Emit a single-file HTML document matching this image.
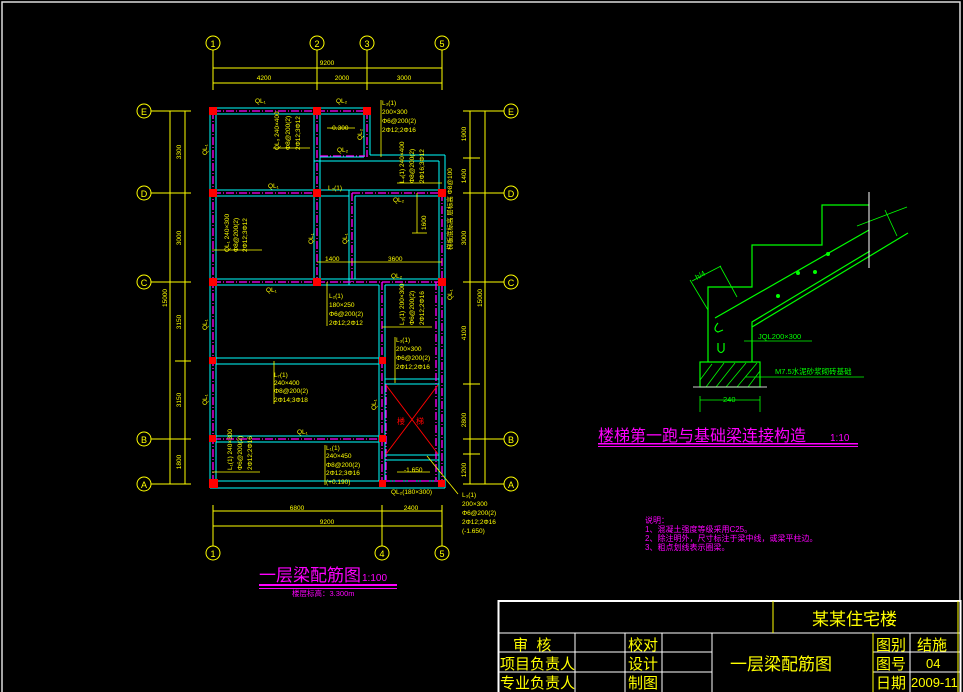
<!DOCTYPE html>
<html><head><meta charset="utf-8"><style>
html,body{margin:0;padding:0;background:#000;}
svg{display:block;}
text{font-family:"Liberation Sans","Noto Sans CJK SC",sans-serif;}
</style></head><body>
<svg width="963" height="692" viewBox="0 0 963 692" xmlns="http://www.w3.org/2000/svg">
<rect x="0" y="0" width="963" height="692" fill="#000"/>
<!-- page border -->
<polyline points="2,692 2,2 960,2 960,692" fill="none" stroke="#ddd" stroke-width="1.5"/>

<!-- ===== GRID AXES ===== -->
<g stroke="#ff0" stroke-width="1" fill="none">
  <!-- top verticals -->
  <line x1="213" y1="50" x2="213" y2="90"/><line x1="317" y1="50" x2="317" y2="90"/>
  <line x1="367" y1="50" x2="367" y2="90"/><line x1="442" y1="50" x2="442" y2="90"/>
  <circle cx="213" cy="43" r="7"/><circle cx="317" cy="43" r="7"/><circle cx="367" cy="43" r="7"/><circle cx="442" cy="43" r="7"/>
  <line x1="213" y1="68" x2="442" y2="68"/><line x1="213" y1="83" x2="442" y2="83"/>
  <!-- bottom -->
  <line x1="213" y1="505" x2="213" y2="546"/><line x1="382" y1="505" x2="382" y2="546"/><line x1="442" y1="505" x2="442" y2="546"/>
  <circle cx="213" cy="553" r="7"/><circle cx="382" cy="553" r="7"/><circle cx="442" cy="553" r="7"/>
  <line x1="213" y1="511" x2="442" y2="511"/><line x1="213" y1="526" x2="442" y2="526"/>
  <!-- left -->
  <circle cx="144" cy="111" r="7"/><circle cx="144" cy="193" r="7"/><circle cx="144" cy="282" r="7"/><circle cx="144" cy="439" r="7"/><circle cx="144" cy="484" r="7"/>
  <line x1="151" y1="111" x2="191" y2="111"/><line x1="151" y1="193" x2="191" y2="193"/><line x1="151" y1="282" x2="191" y2="282"/><line x1="151" y1="439" x2="191" y2="439"/><line x1="151" y1="484" x2="191" y2="484"/>
  <line x1="170" y1="111" x2="170" y2="484"/><line x1="185" y1="111" x2="185" y2="484"/>
  <line x1="175" y1="361" x2="191" y2="361"/>
  <!-- right -->
  <circle cx="511" cy="111" r="7"/><circle cx="511" cy="193" r="7"/><circle cx="511" cy="282" r="7"/><circle cx="511" cy="439" r="7"/><circle cx="511" cy="484" r="7"/>
  <line x1="463" y1="111" x2="504" y2="111"/><line x1="463" y1="193" x2="504" y2="193"/><line x1="463" y1="282" x2="504" y2="282"/><line x1="463" y1="439" x2="504" y2="439"/><line x1="463" y1="484" x2="504" y2="484"/>
  <line x1="470" y1="111" x2="470" y2="484"/><line x1="485" y1="111" x2="485" y2="484"/>
  <line x1="463" y1="158" x2="480" y2="158"/><line x1="463" y1="384" x2="480" y2="384"/><line x1="463" y1="454" x2="480" y2="454"/>
</g>
<g fill="#ff0" font-size="9" text-anchor="middle">
  <text x="213" y="47">1</text><text x="317" y="47">2</text><text x="367" y="47">3</text><text x="442" y="47">5</text>
  <text x="213" y="557">1</text><text x="382" y="557">4</text><text x="442" y="557">5</text>
  <text x="144" y="115">E</text><text x="144" y="197">D</text><text x="144" y="286">C</text><text x="144" y="443">B</text><text x="144" y="488">A</text>
  <text x="511" y="115">E</text><text x="511" y="197">D</text><text x="511" y="286">C</text><text x="511" y="443">B</text><text x="511" y="488">A</text>
</g>
<g fill="#ff0" font-size="6.5" text-anchor="middle" font-family="Liberation Mono">
  <text x="327" y="65">9200</text><text x="264" y="80">4200</text><text x="342" y="80">2000</text><text x="404" y="80">3000</text>
  <text x="297" y="510">6800</text><text x="411" y="510">2400</text><text x="327" y="524">9200</text>
  <text transform="translate(181,152) rotate(-90)">3300</text><text transform="translate(181,238) rotate(-90)">3000</text>
  <text transform="translate(181,322) rotate(-90)">3150</text><text transform="translate(181,400) rotate(-90)">3150</text>
  <text transform="translate(181,462) rotate(-90)">1800</text><text transform="translate(167,298) rotate(-90)">15000</text>
  <text transform="translate(466,134) rotate(-90)">1900</text><text transform="translate(466,176) rotate(-90)">1400</text>
  <text transform="translate(466,238) rotate(-90)">3000</text><text transform="translate(466,333) rotate(-90)">4100</text>
  <text transform="translate(466,420) rotate(-90)">2800</text><text transform="translate(466,470) rotate(-90)">1200</text>
  <text transform="translate(482,298) rotate(-90)">15000</text>
</g>

<!-- ===== WALLS (cyan) ===== -->
<g stroke="#0ff" stroke-width="1" fill="none">
  <!-- outer -->
  <line x1="210" y1="108" x2="210" y2="488"/><line x1="216" y1="114" x2="216" y2="480"/>
  <line x1="210" y1="108" x2="370" y2="108"/><line x1="216" y1="114" x2="314" y2="114"/><line x1="320" y1="114" x2="364" y2="114"/>
  <line x1="370" y1="108" x2="370" y2="155"/><line x1="364" y1="114" x2="364" y2="157"/>
  <line x1="370" y1="155" x2="445" y2="155"/><line x1="320" y1="161" x2="439" y2="161"/><line x1="314" y1="161" x2="320" y2="161"/>
  <line x1="445" y1="155" x2="445" y2="488"/><line x1="439" y1="161" x2="439" y2="190"/>
  <line x1="210" y1="488" x2="445" y2="488"/><line x1="216" y1="481" x2="439" y2="481"/>
  <!-- x=317 -->
  <line x1="314" y1="114" x2="314" y2="279"/><line x1="320" y1="114" x2="320" y2="190"/><line x1="320" y1="196" x2="320" y2="279"/>
  <!-- small room bottom -->
  <line x1="320" y1="157" x2="364" y2="157"/>
  <!-- D -->
  <line x1="216" y1="190" x2="439" y2="190"/><line x1="216" y1="196" x2="314" y2="196"/><line x1="320" y1="196" x2="349" y2="196"/><line x1="355" y1="196" x2="439" y2="196"/>
  <line x1="349" y1="190" x2="349" y2="285"/><line x1="355" y1="196" x2="355" y2="279"/>
  <line x1="439" y1="196" x2="439" y2="481"/>
  <!-- C -->
  <line x1="216" y1="279" x2="439" y2="279"/><line x1="216" y1="285" x2="379" y2="285"/><line x1="385" y1="285" x2="439" y2="285"/>
  <!-- x=382 -->
  <line x1="379" y1="285" x2="379" y2="481"/><line x1="385" y1="285" x2="385" y2="481"/>
  <!-- y=361 -->
  <line x1="216" y1="358" x2="379" y2="358"/><line x1="216" y1="364" x2="379" y2="364"/>
  <!-- B -->
  <line x1="216" y1="436" x2="379" y2="436"/><line x1="216" y1="442" x2="379" y2="442"/>
  <!-- stair -->
  <line x1="385" y1="379" x2="439" y2="379"/><line x1="385" y1="384" x2="439" y2="384"/>
  <line x1="385" y1="455" x2="439" y2="455"/><line x1="385" y1="460" x2="439" y2="460"/>
</g>
<!-- centerlines magenta -->
<g stroke="#f0f" stroke-width="1.3" fill="none" stroke-dasharray="8,2,1,2">
  <line x1="213" y1="111" x2="367" y2="111"/><line x1="213" y1="111" x2="213" y2="484"/>
  <line x1="367" y1="111" x2="367" y2="157"/><line x1="317" y1="111" x2="317" y2="282"/>
  <line x1="320" y1="156" x2="365" y2="156"/>
  <line x1="213" y1="193" x2="317" y2="193"/><line x1="352" y1="193" x2="442" y2="193"/>
  <line x1="352" y1="193" x2="352" y2="282"/><line x1="442" y1="193" x2="442" y2="484"/>
  <line x1="213" y1="282" x2="442" y2="282"/>
  <line x1="382" y1="282" x2="382" y2="484"/><line x1="213" y1="439" x2="382" y2="439"/>
  <line x1="382" y1="481" x2="442" y2="481"/><line x1="436" y1="282" x2="436" y2="480"/><line x1="386" y1="384" x2="386" y2="480"/>
</g>
<!-- stair X -->
<g stroke="#f00" stroke-width="1"><line x1="386" y1="385" x2="438" y2="454"/><line x1="438" y1="385" x2="386" y2="454"/></g>
<text x="397" y="424" fill="#f00" font-size="8">楼</text><text x="416" y="424" fill="#f00" font-size="8">梯</text>
<!-- columns -->
<g fill="#f00">
  <rect x="209" y="107" width="8" height="8"/><rect x="313" y="107" width="8" height="8"/><rect x="363" y="107" width="8" height="8"/>
  <rect x="209" y="189" width="8" height="8"/><rect x="313" y="189" width="8" height="8"/><rect x="438" y="189" width="8" height="8"/>
  <rect x="209" y="278" width="8" height="8"/><rect x="313" y="278" width="8" height="8"/><rect x="438" y="278" width="8" height="8"/>
  <rect x="209" y="357" width="7" height="7"/><rect x="379" y="357" width="7" height="7"/>
  <rect x="209" y="435" width="7" height="7"/><rect x="379" y="435" width="7" height="7"/>
  <rect x="209" y="479" width="9" height="9"/><rect x="379" y="480" width="7" height="7"/><rect x="438" y="480" width="7" height="7"/>
</g>

<!-- annotations -->
<g stroke="#ff0" stroke-width="0.8" fill="none">
  <line x1="381" y1="100" x2="381" y2="157"/><line x1="273" y1="148" x2="310" y2="148"/>
  <line x1="397" y1="183" x2="442" y2="183"/><line x1="212" y1="250" x2="262" y2="250"/>
  <line x1="417" y1="193" x2="417" y2="233"/><line x1="412" y1="233" x2="427" y2="233"/>
  <line x1="317" y1="262" x2="442" y2="262"/><line x1="327" y1="282" x2="327" y2="326"/>
  <line x1="382" y1="327" x2="432" y2="327"/><line x1="395" y1="337" x2="395" y2="383"/>
  <line x1="274" y1="361" x2="274" y2="404"/><line x1="325" y1="445" x2="325" y2="485"/>
  <line x1="212" y1="472" x2="260" y2="472"/><line x1="427" y1="456" x2="458" y2="494"/>
  <line x1="397" y1="472" x2="430" y2="472"/><line x1="327" y1="128" x2="355" y2="128"/>
</g>
<g fill="#ff0" font-size="6.5" font-family="Liberation Mono">
  <text x="255" y="103">QL₁</text><text x="336" y="103">QL₂</text>
  <text x="382" y="105">L₃(1)</text><text x="382" y="114">200×300</text><text x="382" y="123">Φ6@200(2)</text><text x="382" y="132">2Φ12;2Φ16</text>
  <text x="330" y="130">-0.300</text><text x="337" y="152">QL₂</text>
  <text x="268" y="188">QL₁</text><text x="328" y="190">L₂(1)</text><text x="393" y="202">QL₂</text>
  <text x="325" y="261">1400</text><text x="388" y="261">3600</text><text x="391" y="278">QL₂</text>
  <text x="266" y="292">QL₁</text>
  <text x="329" y="298">L₂(1)</text><text x="329" y="307">180×250</text><text x="329" y="316">Φ6@200(2)</text><text x="329" y="325">2Φ12;2Φ12</text>
  <text x="396" y="342">L₃(1)</text><text x="396" y="351">200×300</text><text x="396" y="360">Φ6@200(2)</text><text x="396" y="369">2Φ12;2Φ16</text>
  <text x="274" y="377">L₇(1)</text><text x="274" y="385">240×400</text><text x="274" y="393">Φ8@200(2)</text><text x="274" y="402">2Φ14;3Φ18</text>
  <text x="297" y="434">QL₁</text>
  <text x="326" y="450">L₁(1)</text><text x="326" y="458">240×450</text><text x="326" y="467">Φ8@200(2)</text><text x="326" y="475">2Φ12;3Φ16</text><text x="326" y="484">(+0.190)</text>
  <text x="404" y="472">-1.650</text><text x="391" y="494">QL₂(180×300)</text>
  <text x="462" y="497">L₃(1)</text><text x="462" y="506">200×300</text><text x="462" y="515">Φ6@200(2)</text><text x="462" y="524">2Φ12;2Φ16</text><text x="462" y="533">(-1.650)</text>
  <text transform="translate(207,155) rotate(-90)">QL₁</text><text transform="translate(207,330) rotate(-90)">QL₁</text>
  <text transform="translate(207,405) rotate(-90)">QL₁</text><text transform="translate(313,244) rotate(-90)">QL₁</text>
  <text transform="translate(347,244) rotate(-90)">QL₁</text><text transform="translate(376,410) rotate(-90)">QL₁</text>
  <text transform="translate(452,300) rotate(-90)">QL₁</text><text transform="translate(362,140) rotate(-90)">QL₂</text>
  <text transform="translate(279,150) rotate(-90)">QL₃ 240×400</text><text transform="translate(290,150) rotate(-90)">Φ8@200(2)</text><text transform="translate(300,150) rotate(-90)">2Φ12;3Φ12</text>
  <text transform="translate(229,252) rotate(-90)">QL₁ 240×300</text><text transform="translate(238,252) rotate(-90)">Φ8@200(2)</text><text transform="translate(247,252) rotate(-90)">2Φ12;3Φ12</text>
  <text transform="translate(404,183) rotate(-90)">L₄(1) 240×400</text><text transform="translate(414,183) rotate(-90)">Φ8@200(2)</text><text transform="translate(424,183) rotate(-90)">2Φ16;3Φ12</text>
  <text transform="translate(404,325) rotate(-90)">L₃(1) 200×300</text><text transform="translate(414,325) rotate(-90)">Φ6@200(2)</text><text transform="translate(424,325) rotate(-90)">2Φ12;2Φ16</text>
  <text transform="translate(232,470) rotate(-90)">L₁(1) 240×300</text><text transform="translate(242,470) rotate(-90)">Φ6@200(2)</text><text transform="translate(252,470) rotate(-90)">2Φ12;2Φ16</text>
  <text transform="translate(426,230) rotate(-90)">1600</text>
  <text transform="translate(452,250) rotate(-90)">梯板底标高 层标高 Φ8@100</text>
</g>

<!-- main title -->
<text x="259" y="581" fill="#f0f" font-size="17">一层梁配筋图</text><text x="362" y="581" fill="#f0f" font-size="10">1:100</text>
<rect x="259" y="584" width="138" height="2" fill="#f0f"/><rect x="259" y="588" width="138" height="1" fill="#f0f"/>
<text x="292" y="596" fill="#f0f" font-size="7.5">楼层标高：3.300m</text>

<!-- ===== STAIR DETAIL ===== -->
<g stroke="#0f0" stroke-width="1.2" fill="none">
  <polyline points="869,205 822,205 822,245 752,245 752,287 708,287 708,362"/>
  <polyline points="752,362 752,322 870,251"/>
  <line x1="715" y1="318" x2="869" y2="230"/>
  <line x1="752" y1="327" x2="908" y2="233"/>
  <path d="M718,323 Q712,330 718,332 L723,330"/>
  <path d="M718,343 L718,350 Q721,355 724,350 L724,343"/>
  <line x1="690" y1="280" x2="708" y2="310" stroke-width="0.8"/><line x1="720" y1="266" x2="737" y2="297" stroke-width="0.8"/>
  <line x1="692" y1="281" x2="721" y2="266" stroke-width="0.8"/>
  <line x1="885" y1="210" x2="897" y2="236" stroke-width="0.8"/><line x1="857" y1="226" x2="907" y2="207" stroke-width="0.8"/>
  <rect x="700" y="362" width="60" height="25"/>
  <line x1="744" y1="341" x2="812" y2="341" stroke-width="0.8"/>
  <line x1="745" y1="377" x2="864" y2="377" stroke-width="0.8"/>
  <line x1="700" y1="400" x2="760" y2="400" stroke-width="0.8"/>
  <line x1="700" y1="396" x2="700" y2="412" stroke-width="0.8"/><line x1="760" y1="396" x2="760" y2="412" stroke-width="0.8"/>
</g>
<g stroke="#0f0" stroke-width="0.8">
  <line x1="700" y1="380" x2="712" y2="364"/><line x1="706" y1="387" x2="724" y2="363"/><line x1="716" y1="387" x2="735" y2="363"/>
  <line x1="726" y1="387" x2="746" y2="363"/><line x1="737" y1="387" x2="757" y2="363"/><line x1="748" y1="387" x2="760" y2="371"/>
</g>
<line x1="693" y1="387" x2="767" y2="387" stroke="#ccc" stroke-width="1"/>
<line x1="869" y1="192" x2="869" y2="268" stroke="#fff" stroke-width="1"/>
<g fill="#0f0"><circle cx="828" cy="254" r="2"/><circle cx="798" cy="273" r="2"/><circle cx="815" cy="272" r="2"/><circle cx="778" cy="296" r="2"/></g>
<g fill="#0f0" font-size="7.5" font-family="Liberation Mono">
  <text x="758" y="339">JQL200×300</text><text x="775" y="374">M7.5水泥砂浆砌砖基础</text><text x="723" y="402">240</text>
  <text transform="translate(697,280) rotate(-30)">h/4</text>
</g>
<text x="598" y="441" fill="#f0f" font-size="16">楼梯第一跑与基础梁连接构造</text><text x="830" y="441" fill="#f0f" font-size="10">1:10</text>
<rect x="598" y="443" width="260" height="1.5" fill="#f0f"/><rect x="598" y="446" width="260" height="1" fill="#f0f"/>
<g fill="#f0f" font-size="8">
  <text x="645" y="523">说明：</text>
  <text x="645" y="532">1、混凝土强度等级采用C25。</text>
  <text x="645" y="541">2、除注明外，尺寸标注于梁中线，或梁平柱边。</text>
  <text x="645" y="550">3、粗点划线表示圈梁。</text>
</g>

<!-- ===== TITLE BLOCK ===== -->
<rect x="498" y="600" width="463" height="92" fill="#000"/>
<g stroke="#fff" stroke-width="1" fill="none">
  <rect x="498.5" y="601" width="462" height="92" stroke-width="2"/>
  <line x1="498" y1="633" x2="960" y2="633"/>
  <line x1="498" y1="652" x2="712" y2="652"/><line x1="498" y1="672" x2="712" y2="672"/>
  <line x1="873" y1="652" x2="960" y2="652"/><line x1="873" y1="672" x2="960" y2="672"/>
  <line x1="575" y1="633" x2="575" y2="692"/><line x1="625" y1="633" x2="625" y2="692"/><line x1="662" y1="633" x2="662" y2="692"/><line x1="712" y1="633" x2="712" y2="692"/>
  <line x1="910" y1="633" x2="910" y2="692"/>
</g>
<line x1="773" y1="601" x2="773" y2="633" stroke="#ff0"/>
<line x1="873" y1="633" x2="873" y2="692" stroke="#ff0"/>
<line x1="958" y1="601" x2="958" y2="692" stroke="#ff0"/>
<g fill="#ff0" font-size="15">
  <text x="812" y="625" font-size="17">某某住宅楼</text>
  <text x="730" y="670" font-size="17">一层梁配筋图</text>
  <text x="513" y="650">审&#160;&#160;核</text><text x="500" y="669">项目负责人</text><text x="500" y="688">专业负责人</text>
  <text x="628" y="650">校对</text><text x="628" y="669">设计</text><text x="628" y="688">制图</text>
  <text x="876" y="650">图别</text><text x="876" y="669">图号</text><text x="876" y="688">日期</text>
  <text x="917" y="650">结施</text><text x="926" y="668" font-size="13">04</text><text x="911" y="687" font-size="13">2009-11</text>
</g>
</svg>
</body></html>
